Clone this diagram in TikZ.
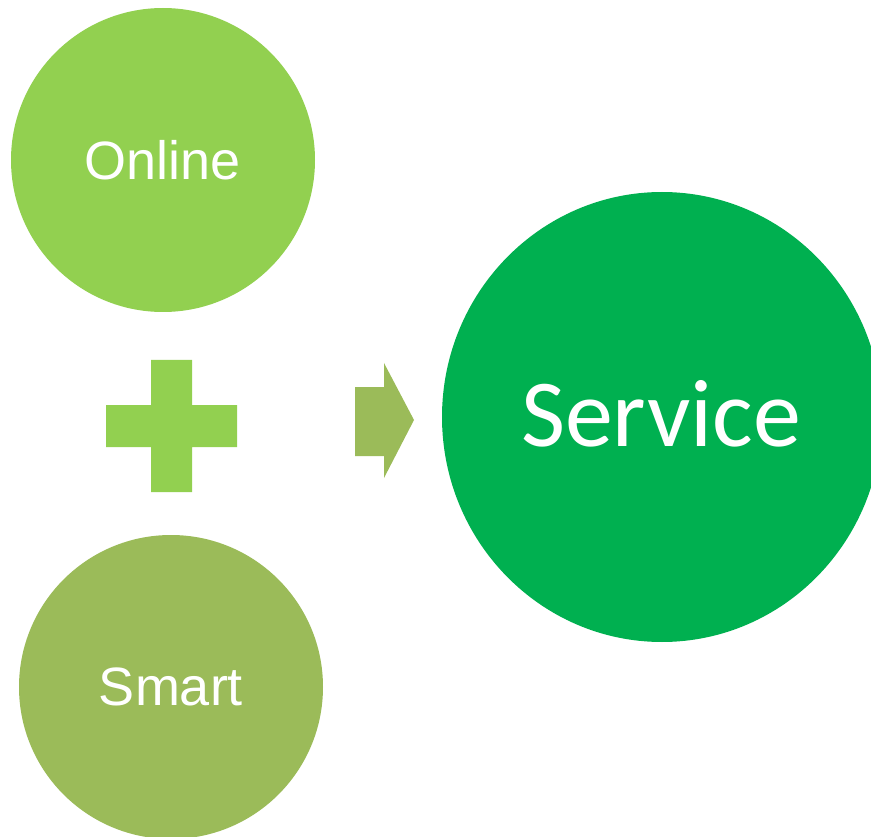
\documentclass[tikz,border=0pt]{standalone}
\usepackage{fontspec}
\setmainfont{Liberation Sans}
\newfontfamily\calib{Carlito}
\definecolor{onlinegreen}{HTML}{92D050}
\definecolor{smartgreen}{HTML}{9BBB59}
\definecolor{servicegreen}{HTML}{00B050}
\begin{document}
\begin{tikzpicture}[x=1pt,y=-1pt,
  bubble/.style={circle, inner sep=0pt, text=white, align=center},
  smalltext/.style={font=\fontsize{54}{60}\selectfont},
  bigtext/.style={font=\calib\fontsize{96}{110}\selectfont}]
\useasboundingbox (0,0) rectangle (871,837);
\begin{scope}
\clip (0,0) rectangle (871,837);
% circles
\node[bubble, fill=onlinegreen, minimum size=304pt, smalltext] (online) at (163,160) {Online};
\node[bubble, fill=smartgreen, minimum size=304pt, smalltext] (smart) at (171,687) {Smart};
\fill[servicegreen] (662,417) ellipse [x radius=220, y radius=225];
\node[text=white, bigtext, inner sep=0pt] (service) at (661,414) {Service};
% plus sign
\fill[onlinegreen] (151,360) -- (192,360) -- (192,405) -- (237,405) -- (237,447)
  -- (192,447) -- (192,492) -- (151,492) -- (151,447) -- (106,447) -- (106,405)
  -- (151,405) -- cycle;
% arrow
\fill[smartgreen] (355,387) -- (384,387) -- (384,363) -- (414,420) -- (384,478)
  -- (384,456) -- (355,456) -- cycle;
\end{scope}
\end{tikzpicture}
\end{document}
